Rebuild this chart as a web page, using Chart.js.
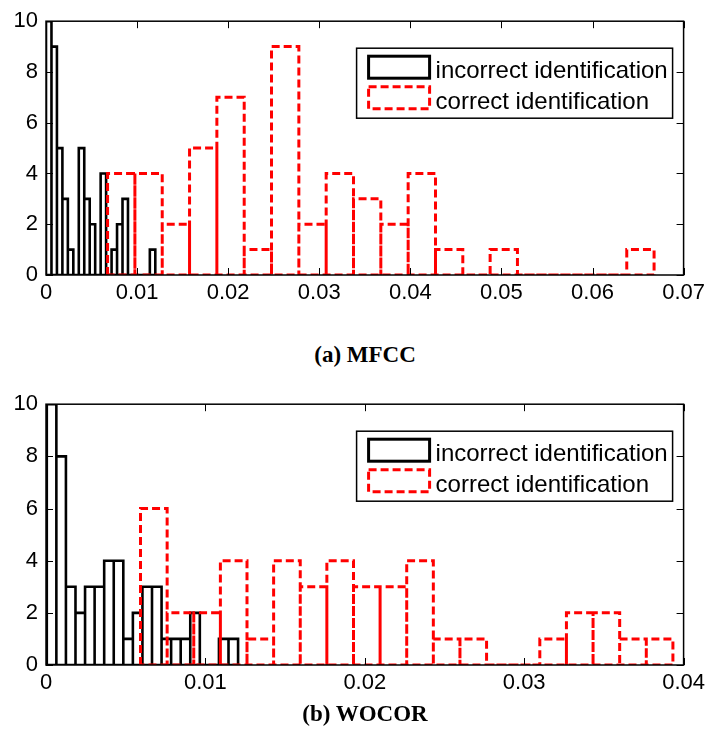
<!DOCTYPE html>
<html>
<head>
<meta charset="utf-8">
<script src="https://cdn.jsdelivr.net/npm/chart.js@4.4.1/dist/chart.umd.min.js"></script>
<style>
  body { margin: 0; background: #fff; width: 710px; height: 746px; position: relative; overflow: hidden; }
  .panel { position: absolute; left: 0; width: 710px; }
  .caption { position: absolute; left: 0; width: 730px; text-align: center; line-height: 24px;
             font: bold 23px "Liberation Serif", "Times New Roman", serif; color: #000; }
</style>
</head>
<body>
<div class="panel" style="top:0;height:330px"><canvas id="mfcc"></canvas></div>
<div class="caption" style="top:342px">(a) MFCC</div>
<div class="panel" style="top:383px;height:337px"><canvas id="wocor"></canvas></div>
<div class="caption" style="top:701px">(b) WOCOR</div>
<script>
// bin layout and counts of each histogram
const mfccIncorrectStart = 0;
const mfccIncorrectWidth = 0.0006;
const mfccIncorrectCounts = [10, 9, 5, 3, 1, 0, 5, 3, 2, 0, 4, 0, 1, 2, 3, 0, 0, 0, 0, 1];
const mfccCorrectStart = 0.00676;
const mfccCorrectWidth = 0.0030;
const mfccCorrectCounts = [4, 4, 2, 5, 7, 1, 9, 2, 4, 3, 2, 4, 1, 0, 1, 0, 0, 0, 0, 1];

const wocorIncorrectStart = 0.00005;
const wocorIncorrectWidth = 0.0006;
const wocorIncorrectCounts = [10, 8, 3, 2, 3, 3, 4, 4, 1, 2, 3, 3, 1, 1, 1, 2, 0, 0, 1, 1];
const wocorCorrectStart = 0.00593;
const wocorCorrectWidth = 0.00167;
const wocorCorrectCounts = [6, 2, 2, 4, 1, 4, 3, 4, 3, 3, 4, 1, 1, 0, 0, 1, 2, 2, 1, 1];

const seriesLabels = ['incorrect identification', 'correct identification'];
const yTicks = [0, 2, 4, 6, 8, 10];

const sansFont = '"Liberation Sans", Arial, Helvetica, sans-serif';

// outline of every bar: up the left edge, across the top, down the right edge
function histOutline(start, width, counts) {
    const pts = [];
    counts.forEach((c, i) => {
        const l = start + i * width;
        const r = l + width;
        pts.push({x: l, y: 0}, {x: l, y: c}, {x: r, y: c}, {x: r, y: 0});
    });
    pts.push({x: start, y: 0});  // back along the baseline
    return pts;
}

// axes box with inward ticks, plus the boxed legend in the upper right
const framePlugin = {
    id: 'frame',
    afterDraw(chart) {
        const ctx = chart.ctx;
        const ca = chart.chartArea;
        const xs = chart.scales.x, ys = chart.scales.y;
        const tl = 7;
        ctx.save();
        ctx.strokeStyle = '#000';
        ctx.lineWidth = 1;
        ctx.beginPath();
        xs.ticks.forEach(t => {
            const px = Math.round(xs.getPixelForValue(t.value)) + 0.5;
            ctx.moveTo(px, ca.bottom); ctx.lineTo(px, ca.bottom - tl);
            ctx.moveTo(px, ca.top); ctx.lineTo(px, ca.top + tl);
        });
        ys.ticks.forEach(t => {
            const py = Math.round(ys.getPixelForValue(t.value)) + 0.5;
            ctx.moveTo(ca.left, py); ctx.lineTo(ca.left + tl, py);
            ctx.moveTo(ca.right, py); ctx.lineTo(ca.right - tl, py);
        });
        ctx.stroke();
        ctx.lineWidth = 1.5;
        ctx.strokeRect(ca.left, ca.top, ca.right - ca.left, ca.bottom - ca.top);

        // legend
        const bx = ca.right - 327, by = ca.top + 27, bw = 316, bh = 70;
        ctx.fillStyle = '#fff';
        ctx.fillRect(bx, by, bw, bh);
        ctx.lineWidth = 1.5;
        ctx.strokeStyle = '#000';
        ctx.strokeRect(bx, by, bw, bh);
        ctx.font = '24px ' + sansFont;
        ctx.textBaseline = 'alphabetic';
        ctx.textAlign = 'left';
        chart.data.datasets.forEach((ds, i) => {
            const sy = by + 8 + i * 30.5;
            ctx.save();
            ctx.strokeStyle = ds.borderColor;
            ctx.lineWidth = 3;
            ctx.setLineDash(ds.borderDash || []);
            ctx.strokeRect(bx + 12, sy, 61, 22);
            ctx.restore();
            ctx.fillStyle = '#000';
            ctx.fillText(ds.label, bx + 79, sy + 22);
        });
        ctx.restore();
    }
};

function makeHistogram(id, xMax, incorrect, correct) {
    new Chart(document.getElementById(id), {
        type: 'scatter',
        data: {
            datasets: [
                {
                    label: seriesLabels[0],
                    data: incorrect,
                    showLine: true,
                    borderColor: '#000',
                    borderWidth: 2.6,
                    pointRadius: 0,
                    fill: false,
                    order: 1
                },
                {
                    label: seriesLabels[1],
                    data: correct,
                    showLine: true,
                    borderColor: '#ff0000',
                    borderWidth: 3,
                    borderDash: [8, 4],
                    pointRadius: 0,
                    fill: false,
                    order: 0
                }
            ]
        },
        options: {
            responsive: true,
            maintainAspectRatio: false,
            animation: false,
            events: [],
            layout: { padding: { top: 18, right: 24, left: 0, bottom: 0 } },
            plugins: {
                legend: { display: false },
                tooltip: { enabled: false }
            },
            scales: {
                x: {
                    type: 'linear',
                    min: 0,
                    max: xMax,
                    grid: { display: false, drawTicks: false },
                    border: { display: false },
                    afterFit: s => { s.height = 55; },
                    ticks: {
                        stepSize: 0.01,
                        padding: 5,
                        maxRotation: 0,
                        color: '#000',
                        font: { family: sansFont, size: 22 },
                        callback: v => (v === 0 ? '0' : v.toFixed(2))
                    }
                },
                y: {
                    min: 0,
                    max: 10,
                    grid: { display: false, drawTicks: false },
                    border: { display: false },
                    afterFit: s => { s.width = 46; },
                    afterBuildTicks: s => { s.ticks = yTicks.map(v => ({value: v})); },
                    ticks: {
                        padding: 8,
                        color: '#000',
                        font: { family: sansFont, size: 22 }
                    }
                }
            }
        },
        plugins: [framePlugin]
    });
}

makeHistogram('mfcc', 0.07,
    histOutline(mfccIncorrectStart, mfccIncorrectWidth, mfccIncorrectCounts),
    histOutline(mfccCorrectStart, mfccCorrectWidth, mfccCorrectCounts));

makeHistogram('wocor', 0.04,
    histOutline(wocorIncorrectStart, wocorIncorrectWidth, wocorIncorrectCounts),
    histOutline(wocorCorrectStart, wocorCorrectWidth, wocorCorrectCounts));
</script>
</body>
</html>
